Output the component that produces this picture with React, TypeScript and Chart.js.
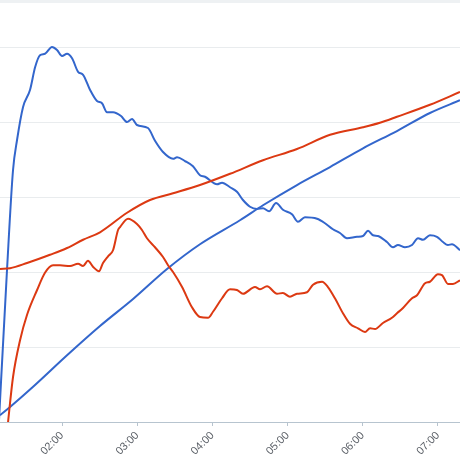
import React, { useEffect, useRef } from "react";
import { Chart, registerables } from "chart.js";

Chart.register(...registerables);

// time in minutes after midnight, values in grid units
const xMin = 70.5;
const xMax = 437.6;
const tickStepMinutes = 60;

const spikeTimes = [69, 76.1, 80.9, 84.1, 88.9, 94.5, 98.5, 102.4, 106.4, 112.0, 116.0, 120.0, 124.0, 128.0, 132.8, 136.8, 142.3, 147.9, 151.9, 155.9, 160.7, 167.1, 171.9, 175.9, 179.8, 188.6, 194.2, 200.6, 208.6, 211.8, 218.1, 224.5, 230.1, 234.1, 243.7, 247.7, 254.1, 259.6, 264.4, 270.0, 275.6, 280.4, 285.2, 290.8, 296.3, 303.5, 308.3, 313.9, 323.5, 329.9, 336.2, 341.8, 347.4, 355.4, 360.2, 364.2, 368.2, 372.1, 379.3, 384.1, 388.1, 393.7, 399.3, 404.1, 408.1, 413.6, 419.2, 424.0, 428.0, 431.2, 437.6];
const spikeValues = [-0.2, 2.03, 3.36, 3.76, 4.20, 4.43, 4.73, 4.89, 4.91, 5.00, 4.96, 4.88, 4.91, 4.85, 4.67, 4.63, 4.43, 4.28, 4.25, 4.13, 4.13, 4.08, 4.00, 4.04, 3.96, 3.92, 3.75, 3.60, 3.51, 3.53, 3.48, 3.41, 3.29, 3.27, 3.17, 3.19, 3.13, 3.07, 2.96, 2.87, 2.84, 2.85, 2.81, 2.92, 2.83, 2.77, 2.67, 2.73, 2.71, 2.65, 2.57, 2.52, 2.45, 2.47, 2.48, 2.55, 2.49, 2.48, 2.40, 2.33, 2.36, 2.33, 2.36, 2.45, 2.43, 2.49, 2.47, 2.40, 2.36, 2.37, 2.29];

const blueRiseTimes = [70.5, 78.5, 96.9, 124.0, 150.3, 176.7, 203.8, 230.1, 262.0, 280.4, 307.5, 333.9, 360.2, 387.3, 413.6, 437.6];
const blueRiseValues = [0.09, 0.20, 0.47, 0.89, 1.28, 1.64, 2.04, 2.37, 2.69, 2.89, 3.16, 3.40, 3.65, 3.88, 4.12, 4.29];

const redRiseTimes = [70.5, 78.5, 92.1, 110.4, 124.0, 136.8, 150.3, 171.9, 190.2, 208.6, 230.1, 254.1, 280.4, 307.5, 333.9, 360.2, 373.7, 387.3, 413.6, 437.6];
const redRiseValues = [2.04, 2.05, 2.12, 2.23, 2.32, 2.43, 2.53, 2.79, 2.96, 3.05, 3.16, 3.31, 3.49, 3.64, 3.83, 3.93, 3.99, 4.07, 4.23, 4.40];

const redWaveTimes = [76.3, 80.9, 86.5, 92.1, 100.1, 106.4, 112.8, 118.4, 126.4, 132.8, 136.8, 140.7, 144.7, 149.5, 152.7, 156.7, 160.7, 164.7, 166.3, 172.7, 179.8, 183.8, 187.8, 194.2, 200.6, 204.6, 208.6, 215.8, 223.7, 230.1, 236.5, 240.5, 247.7, 254.1, 259.6, 264.4, 274.0, 278.0, 283.6, 291.6, 296.3, 301.9, 307.5, 315.5, 320.3, 327.5, 332.2, 337.8, 344.2, 349.8, 356.2, 361.8, 365.8, 369.8, 376.1, 383.3, 387.3, 392.1, 399.3, 403.3, 409.7, 413.6, 420.0, 423.2, 428.0, 432.0, 437.6];
const redWaveValues = [-0.1, 0.60, 1.09, 1.43, 1.76, 1.99, 2.09, 2.09, 2.08, 2.11, 2.08, 2.15, 2.07, 2.01, 2.12, 2.21, 2.29, 2.56, 2.60, 2.71, 2.64, 2.56, 2.45, 2.33, 2.20, 2.09, 2.00, 1.80, 1.53, 1.40, 1.39, 1.47, 1.65, 1.77, 1.76, 1.71, 1.80, 1.77, 1.81, 1.71, 1.72, 1.67, 1.71, 1.73, 1.83, 1.87, 1.80, 1.65, 1.45, 1.31, 1.25, 1.20, 1.25, 1.24, 1.32, 1.39, 1.45, 1.52, 1.65, 1.69, 1.85, 1.87, 1.97, 1.96, 1.84, 1.84, 1.89];

const yMax = 5.627;

const BLUE = "#3366cc";
const RED = "#dc3912";

function pts(t: number[], v: number[]) {
  return t.map((x, i) => ({ x, y: v[i] }));
}

function fmt(m: number) {
  const h = Math.floor(m / 60);
  const mm = Math.round(m - h * 60);
  return String(h).padStart(2, "0") + ":" + String(mm).padStart(2, "0");
}

export default function App() {
  const ref = useRef<HTMLCanvasElement | null>(null);
  useEffect(() => {
    if (!ref.current) return;
    const line = (data: any, color: string) => ({
      data,
      borderColor: color,
      backgroundColor: color,
      borderWidth: 2,
      pointRadius: 0,
      cubicInterpolationMode: "monotone" as const,
      fill: false,
    });
    const chart = new Chart(ref.current, {
      type: "line",
      data: {
        datasets: [
          line(pts(redWaveTimes, redWaveValues), RED),
          line(pts(redRiseTimes, redRiseValues), RED),
          line(pts(blueRiseTimes, blueRiseValues), BLUE),
          line(pts(spikeTimes, spikeValues), BLUE),
        ],
      },
      options: {
        responsive: false,
        animation: false,
        layout: { padding: 0 },
        plugins: { legend: { display: false }, tooltip: { enabled: false } },
        scales: {
          x: {
            type: "linear",
            min: xMin,
            max: xMax,
            afterFit: (s: any) => {
              s.height = 38;
            },
            ticks: {
              stepSize: tickStepMinutes,
              includeBounds: false,
              minRotation: 45,
              maxRotation: 45,
              padding: 3,
              color: "#5a5f66",
              font: { family: "'Liberation Sans', Arial", size: 11 },
              callback: (v: any) => fmt(Number(v)),
            },
            grid: { drawOnChartArea: false, drawTicks: true, tickLength: 4, color: "#b7c4cf" },
            border: { display: true, color: "#b7c4cf", width: 1 },
          },
          y: {
            min: 0,
            max: yMax,
            ticks: { display: false, stepSize: 1 },
            grid: { drawTicks: false, color: "#e9ecee" },
            border: { display: false },
          },
        },
      },
    });
    return () => chart.destroy();
  }, []);
  return (
    <div style={{ position: "fixed", left: 0, top: 0, width: 460, height: 460, background: "#fff" }}>
      <canvas ref={ref} width={460} height={460} style={{ display: "block" }} />
      <div style={{ position: "absolute", left: 0, top: 0, width: 460, height: 3, background: "#eef1f3" }} />
    </div>
  );
}
